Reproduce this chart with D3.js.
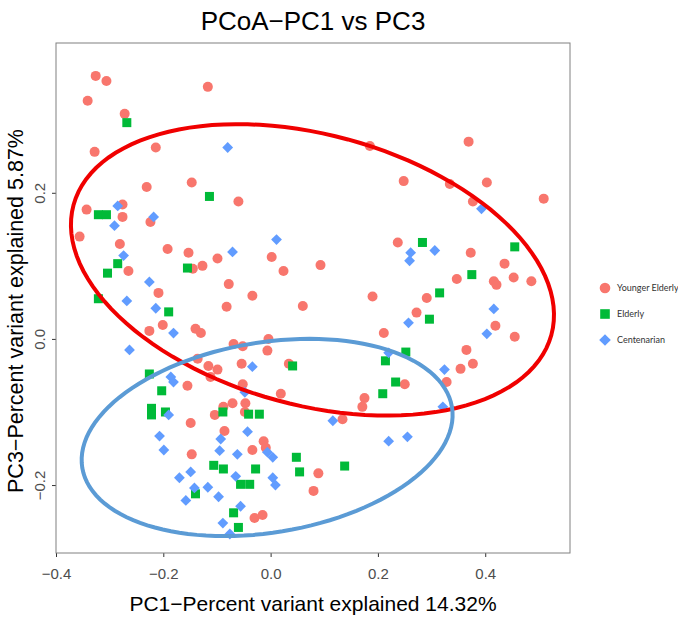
<!DOCTYPE html>
<html><head><meta charset="utf-8">
<script src="https://cdn.jsdelivr.net/npm/d3@7"></script>
<style>body{margin:0;background:#fff}svg{display:block}</style>
</head><body>
<svg id="chart" width="678" height="617"></svg>
<script>
// ---- data (PC1, PC3) ----
const youngerElderly = [
[-0.326,0.360],[-0.306,0.353],[-0.341,0.326],[-0.272,0.308],[-0.117,0.345],[-0.328,0.256],[-0.214,0.262],
[-0.231,0.208],[-0.147,0.214],[-0.343,0.177],[-0.276,0.184],[-0.276,0.167],[-0.224,0.160],[0.185,0.264],
[-0.060,0.188],[0.248,0.216],[0.369,0.270],[0.334,0.212],[0.403,0.214],[0.509,0.192],[0.377,0.188],
[-0.356,0.140],[-0.281,0.130],[-0.192,0.123],[-0.153,0.118],[-0.145,0.096],[-0.127,0.100],[-0.099,0.110],
[-0.265,0.093],[-0.209,0.063],[-0.201,0.019],[-0.226,0.011],[-0.140,0.014],[-0.130,0.008],[-0.136,-0.027],
[-0.116,-0.037],[-0.099,-0.042],[-0.155,-0.064],[0.002,0.112],[0.024,0.093],[0.093,0.101],[0.237,0.132],
[-0.078,0.075],[-0.034,0.059],[-0.082,0.044],[0.060,0.045],[0.190,0.058],[0.211,0.008],[-0.069,-0.007],
[-0.052,-0.010],[-0.004,0.000],[-0.006,-0.016],[-0.054,-0.034],[-0.112,-0.052],[-0.052,-0.062],[0.034,-0.034],
[0.373,0.118],[0.436,0.103],[0.347,0.082],[0.416,0.079],[0.421,0.074],[0.453,0.084],[0.486,0.079],
[0.291,0.056],[0.272,0.036],[0.419,0.018],[0.455,0.003],[0.365,-0.015],[0.377,-0.034],[0.354,-0.041],
[0.328,-0.059],[0.250,-0.062],[-0.149,-0.115],[-0.086,-0.126],[-0.104,-0.104],[-0.088,-0.093],[-0.071,-0.088],
[-0.147,-0.158],[0.019,-0.075],[-0.047,-0.088],[-0.048,-0.100],[-0.013,-0.140],[-0.034,-0.152],[-0.009,-0.149],
[0.089,-0.184],[0.080,-0.208],[0.175,-0.081],[0.171,-0.093],[0.134,-0.110],[-0.030,-0.245],[-0.015,-0.241]
];
const elderly = [
[-0.268,0.296],[-0.114,0.195],[-0.321,0.170],[-0.306,0.170],[-0.285,0.103],[-0.304,0.090],[-0.321,0.055],
[-0.155,0.097],[-0.190,0.037],[-0.226,-0.048],[-0.203,-0.071],[0.041,-0.037],[0.214,-0.030],[0.233,-0.059],
[0.283,0.132],[0.455,0.126],[0.375,0.088],[0.315,0.063],[0.296,0.027],[0.252,-0.018],[-0.222,-0.095],
[-0.222,-0.104],[-0.196,-0.100],[-0.089,-0.100],[-0.106,-0.173],[-0.088,-0.178],[-0.140,-0.212],[-0.069,-0.238],
[-0.060,-0.258],[-0.056,-0.199],[-0.039,-0.199],[-0.041,-0.103],[-0.021,-0.103],[0.048,-0.162],[0.054,-0.182],
[0.138,-0.174],[-0.028,-0.178],[0.209,-0.075]
];
const centenarian = [
[-0.285,0.182],[-0.218,0.167],[-0.291,0.155],[-0.080,0.262],[0.393,0.178],[-0.274,0.114],[-0.226,0.078],
[-0.268,0.052],[-0.214,0.042],[-0.181,0.008],[-0.263,-0.015],[-0.186,-0.052],[-0.181,-0.059],[-0.071,0.119],
[0.011,0.136],[-0.034,-0.038],[0.220,-0.019],[0.261,0.118],[0.306,0.121],[0.259,0.107],[0.416,0.041],
[0.257,0.022],[0.403,0.007],[0.324,-0.042],[-0.190,-0.104],[-0.207,-0.133],[-0.199,-0.152],[-0.093,-0.137],
[-0.095,-0.153],[-0.062,-0.158],[-0.149,-0.182],[-0.170,-0.190],[-0.142,-0.204],[-0.117,-0.203],[-0.158,-0.221],
[-0.097,-0.216],[-0.065,-0.188],[-0.089,-0.252],[-0.076,-0.267],[-0.056,-0.229],[-0.048,-0.073],[-0.043,-0.127],
[-0.006,-0.155],[0.004,-0.162],[0.004,-0.190],[0.009,-0.200],[0.116,-0.112],[0.220,-0.140],[0.255,-0.134],
[0.321,-0.093]
];
const groups = ["Younger Elderly","Elderly","Centenarian"];
const xTicks = [-0.4,-0.2,0.0,0.2,0.4];
const yTicks = [-0.2,0.0,0.2];
// ellipses: centre and two conjugate semi-axis vectors (data units)
const redEllipse = {c:[0.078,0.0945], a:[0.4453,-0.0889], b:[-0.0660,-0.1785]};
const blueEllipse = {c:[-0.0065,-0.1349], a:[0.3445,0.0416], b:[0.0287,-0.1284]};

// ---- layout ----
const L=56, R=570, T=43, B=553;
const x = d3.scaleLinear().domain([-0.4,0.558]).range([L,R]);
const y = d3.scaleLinear().domain([-0.293,0.405]).range([B,T]);
const svg = d3.select("#chart");
const font = "'Liberation Sans', Arial, Helvetica, sans-serif";

svg.append("text").attr("x",(L+R)/2).attr("y",30).attr("text-anchor","middle")
  .attr("font-family",font).attr("font-size",26).attr("fill","#000")
  .text("PCoA\u2212PC1 vs PC3");

// axes
const xAxis = svg.append("g").attr("transform",`translate(0,${B})`)
  .call(d3.axisBottom(x).tickValues(xTicks).tickFormat(d3.format(".1f")).tickSize(4).tickPadding(11));
const yAxis = svg.append("g").attr("transform",`translate(${L},0)`)
  .call(d3.axisLeft(y).tickValues(yTicks).tickFormat(d3.format(".1f")).tickSize(4).tickPadding(4));
[xAxis,yAxis].forEach(g=>{
  g.select(".domain").remove();
  g.selectAll(".tick line").attr("stroke","#333");
  g.selectAll(".tick text").attr("font-family",font).attr("font-size",15).attr("fill","#4d4d4d")
   .text(d=>d3.format(".1f")(d).replace("-","\u2212"));
});
yAxis.selectAll(".tick text").attr("transform",d=>`rotate(-90,${-12},0)`).attr("x",-12).attr("dy","0.35em")
  .attr("text-anchor","middle").attr("y",-4);

// panel
svg.append("rect").attr("x",L).attr("y",T).attr("width",R-L).attr("height",B-T)
  .attr("fill","none").attr("stroke","#808080").attr("stroke-width",1);

// points
const pts = svg.append("g");
pts.selectAll("circle").data(youngerElderly).join("circle")
  .attr("cx",d=>x(d[0])).attr("cy",d=>y(d[1])).attr("r",5).attr("fill","#F8766D");
pts.selectAll("rect.e").data(elderly).join("rect").attr("class","e")
  .attr("x",d=>x(d[0])-4.5).attr("y",d=>y(d[1])-4.5).attr("width",9).attr("height",9).attr("fill","#00BA38");
const dia = 5.4;
pts.selectAll("path.c").data(centenarian).join("path").attr("class","c")
  .attr("d",d=>{const cx=x(d[0]),cy=y(d[1]);return `M${cx},${cy-dia}L${cx+dia},${cy}L${cx},${cy+dia}L${cx-dia},${cy}Z`;})
  .attr("fill","#619CFF");

// ellipses
function ellipsePts(e){
  return d3.range(0,361,3).map(deg=>{const t=deg*Math.PI/180;
    return [e.c[0]+e.a[0]*Math.cos(t)+e.b[0]*Math.sin(t), e.c[1]+e.a[1]*Math.cos(t)+e.b[1]*Math.sin(t)];});
}
const line = d3.line().x(d=>x(d[0])).y(d=>y(d[1])).curve(d3.curveLinearClosed);
svg.append("path").attr("d",line(ellipsePts(redEllipse))).attr("fill","none").attr("stroke","#F00000").attr("stroke-width",4);
svg.append("path").attr("d",line(ellipsePts(blueEllipse))).attr("fill","none").attr("stroke","#5B9BD5").attr("stroke-width",4);

// axis titles
svg.append("text").attr("x",(L+R)/2).attr("y",611).attr("text-anchor","middle")
  .attr("font-family",font).attr("font-size",21).attr("fill","#000")
  .text("PC1\u2212Percent variant explained 14.32%");
svg.append("text").attr("transform",`translate(23,311) rotate(-90)`).attr("text-anchor","middle")
  .attr("font-family",font).attr("font-size",21.5).attr("fill","#000")
  .text("PC3\u2212Percent variant explained 5.87%");

// legend
const lg = svg.append("g").attr("font-family","Lato, 'Noto Sans', sans-serif").attr("font-size",9).attr("fill","#333");
const ly = [288,314,340];
groups.forEach((g,i)=>{
  const cx=605, cy=ly[i];
  if(i===0) lg.append("circle").attr("cx",cx).attr("cy",cy).attr("r",5.3).attr("fill","#F8766D");
  if(i===1) lg.append("rect").attr("x",cx-4.8).attr("y",cy-4.8).attr("width",9.6).attr("height",9.6).attr("fill","#00BA38");
  if(i===2) lg.append("path").attr("d",`M${cx},${cy-5.8}L${cx+5.8},${cy}L${cx},${cy+5.8}L${cx-5.8},${cy}Z`).attr("fill","#619CFF");
  lg.append("text").attr("x",617).attr("y",cy).attr("dy","0.35em").text(g);
});
</script>
</body></html>
